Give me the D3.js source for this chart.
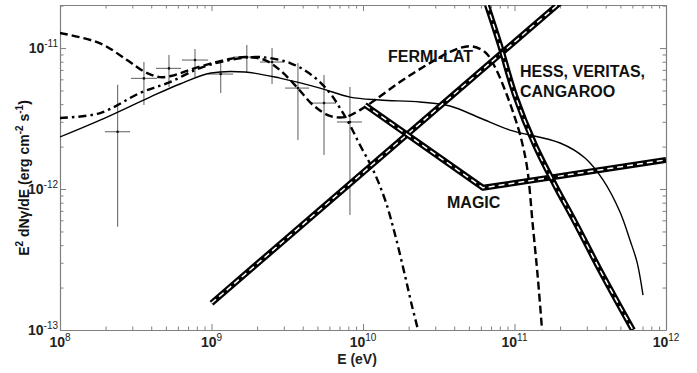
<!DOCTYPE html>
<html>
<head>
<meta charset="utf-8">
<script src="https://cdn.jsdelivr.net/npm/d3@7"></script>
<style>
  body { margin: 0; background: #fff; }
  svg { font-family: "Liberation Sans", Arial, sans-serif; }
</style>
</head>
<body>
<div id="chart"></div>
<script>
const width = 697,
height = 373;

// Fermi-LAT points
const fermiE   = [2.40e8, 3.58e8, 5.24e8, 7.78e8, 1.15e9, 1.71e9, 2.51e9, 3.72e9, 5.53e9, 8.20e9]
const fermiElo = [1.98e8, 2.94e8, 4.30e8, 6.38e8, 9.48e8, 1.39e9, 2.09e9, 3.06e9, 4.54e9, 6.73e9]
const fermiEhi = [2.90e8, 4.37e8, 6.29e8, 9.48e8, 1.39e9, 2.09e9, 3.01e9, 4.41e9, 6.64e9, 9.84e9]
const fermiF   = [2.55e-12, 6.09e-12, 7.17e-12, 8.22e-12, 6.54e-12, 8.63e-12, 7.96e-12, 5.20e-12, 4.07e-12, 2.99e-12]
const fermiFlo = [5.4e-13, 3.95e-12, 5.29e-12, 6.23e-12, 4.80e-12, 6.76e-12, 5.56e-12, 2.23e-12, 1.74e-12, 6.54e-13]
const fermiFhi = [5.5e-12, 7.96e-12, 8.92e-12, 9.84e-12, 7.96e-12, 1.05e-11, 1.0e-11, 7.83e-12, 6.44e-12, 5.29e-12]

// model curves
const solidE = [1e8, 1.84e8, 3.93e8, 6.19e8, 9.93e8, 1.66e9, 2.83e9, 5.20e9, 8.20e9, 1.29e10, 2.38e10, 3.75e10, 5.92e10, 9.33e10, 2.0e11, 2.92e11, 3.84e11, 4.97e11, 5.78e11, 6.44e11, 7.05e11]
const solidF = [2.34e-12, 3.08e-12, 4.49e-12, 5.56e-12, 6.65e-12, 6.76e-12, 6.12e-12, 5.20e-12, 4.49e-12, 4.28e-12, 4.14e-12, 3.88e-12, 3.19e-12, 2.62e-12, 2.12e-12, 1.66e-12, 1.16e-12, 6.87e-13, 4.35e-13, 3.03e-13, 1.77e-13]

const dashE = [1e8, 1.84e8, 2.77e8, 3.64e8, 4.57e8, 5.74e8, 7.78e8, 1.32e9, 1.71e9, 2.25e9, 2.83e9, 3.66e9, 4.68e9, 6.05e9, 7.60e9, 9.55e9, 1.20e10, 1.75e10, 2.56e10, 3.75e10, 5.08e10, 6.38e10, 7.43e10, 8.65e10, 9.77e10, 1.09e11, 1.21e11, 1.32e11, 1.43e11, 1.52e11]
const dashF = [1.28e-11, 1.08e-11, 8.22e-12, 6.76e-12, 6.22e-12, 6.44e-12, 7.21e-12, 8.36e-12, 8.63e-12, 8.22e-12, 6.98e-12, 5.28e-12, 3.94e-12, 3.30e-12, 3.24e-12, 3.63e-12, 4.28e-12, 5.74e-12, 7.45e-12, 9.38e-12, 1.03e-11, 9.38e-12, 7.33e-12, 5.04e-12, 3.52e-12, 2.42e-12, 1.43e-12, 5.56e-13, 2.26e-13, 1e-13]

const dashDotE = [1e8, 1.84e8, 3.37e8, 5.32e8, 8.39e8, 1.32e9, 2.09e9, 3.30e9, 4.68e9, 6.05e9, 7.05e9, 8.20e9, 9.55e9, 1.15e10, 1.40e10, 1.63e10, 1.89e10, 2.10e10, 2.31e10]
const dashDotF = [3.19e-12, 3.46e-12, 4.80e-12, 5.74e-12, 7.21e-12, 8.22e-12, 8.63e-12, 7.83e-12, 6.32e-12, 4.80e-12, 3.75e-12, 2.84e-12, 2.05e-12, 1.41e-12, 8.36e-13, 4.72e-13, 2.45e-13, 1.50e-13, 1e-13]

// sensitivities
const risingE = [1e9, 2e11]
const risingF = [1.55e-13, 2.1e-11]
const magicE = [1.03e10, 6.19e10, 1e12]
const magicF = [3.95e-12, 1.02e-12, 1.61e-12]
const hessE = [6.58e10, 8.02e10, 1.007e11, 1.365e11, 1.85e11, 2.51e11, 3.66e11, 6.05e11]
const hessF = [2.02e-11, 1.05e-11, 4.65e-12, 2.05e-12, 1.067e-12, 5.83e-13, 2.67e-13, 1e-13]

const xMajor = [1e8, 1e9, 1e10, 1e11, 1e12]
const xExp = ["8", "9", "10", "11", "12"]
const yMajor = [1e-13, 1e-12, 1e-11]
const yExp = ["-13", "-12", "-11"]

const plotLeft = 60, plotRight = 666, plotTop = 5, plotBottom = 330;

const x = d3.scaleLog().domain([1e8, 1e12]).range([plotLeft, plotRight]);
const y = d3.scaleLog().domain([1e-13, 2.02e-11]).range([plotBottom, plotTop]);

const svg = d3.select("#chart")
            .append("svg")
            .attr("width", width)
            .attr("height", height);

svg.append("clipPath").attr("id", "clip")
   .append("rect")
   .attr("x", plotLeft).attr("y", plotTop)
   .attr("width", plotRight - plotLeft).attr("height", plotBottom - plotTop);

// minor ticks
const xTicks = [];
for (let e = 8; e < 12; e++) for (let k = 1; k < 10; k++) xTicks.push(k * Math.pow(10, e));
xTicks.push(1e12);
const yTicks = [];
for (let e = -13; e < -10; e++) for (let k = 1; k < 10; k++) {
  const v = k * Math.pow(10, e);
  if (v <= 2.02e-11) yTicks.push(v);
}
const isMajor = v => Math.abs(Math.log10(v) - Math.round(Math.log10(v))) < 1e-6;

function styleAxis(g, sign, dir) {
  g.select(".domain").attr("stroke", "#808080").attr("stroke-width", 1.2);
  g.selectAll(".tick line")
    .attr("stroke", "#808080")
    .attr(dir, d => sign * (isMajor(d) ? 6 : 3.5));
  g.selectAll(".tick text").remove();
}

svg.append("g").attr("transform", `translate(0,${plotBottom})`)
   .call(d3.axisBottom(x).tickValues(xTicks).tickSizeOuter(0))
   .call(g => styleAxis(g, -1, "y2"));
svg.append("g").attr("transform", `translate(0,${plotTop})`)
   .call(d3.axisTop(x).tickValues(xTicks).tickSizeOuter(0))
   .call(g => styleAxis(g, 1, "y2"));
svg.append("g").attr("transform", `translate(${plotLeft},0)`)
   .call(d3.axisLeft(y).tickValues(yTicks).tickSizeOuter(0))
   .call(g => styleAxis(g, 1, "x2"));
svg.append("g").attr("transform", `translate(${plotRight},0)`)
   .call(d3.axisRight(y).tickValues(yTicks).tickSizeOuter(0))
   .call(g => styleAxis(g, -1, "x2"));

// tick labels
xMajor.forEach((v, i) => {
  const t = svg.append("text")
    .attr("x", x(v)).attr("y", 347)
    .attr("text-anchor", "middle")
    .attr("font-size", 14).attr("font-weight", "bold")
    .attr("fill", "#222");
  t.append("tspan").text("10");
  t.append("tspan").attr("dy", -6).attr("font-size", 10).attr("font-weight", "normal").text(xExp[i]);
});
yMajor.forEach((v, i) => {
  const t = svg.append("text")
    .attr("x", 58).attr("y", y(v) + 5)
    .attr("text-anchor", "end")
    .attr("font-size", 14).attr("font-weight", "bold")
    .attr("fill", "#222");
  t.append("tspan").text("10");
  t.append("tspan").attr("dy", -6).attr("font-size", 10).attr("font-weight", "normal").text(yExp[i]);
});

// axis titles
svg.append("text")
  .attr("x", 357).attr("y", 364)
  .attr("text-anchor", "middle")
  .attr("font-size", 14).attr("font-weight", "bold")
  .attr("fill", "#222")
  .text("E (eV)");

const yl = svg.append("text")
  .attr("transform", "translate(29,178) rotate(-90)")
  .attr("text-anchor", "middle")
  .attr("font-size", 14).attr("font-weight", "bold")
  .attr("fill", "#111");
yl.append("tspan").text("E");
yl.append("tspan").attr("dy", -6).attr("font-size", 10).text("2");
yl.append("tspan").attr("dy", 6).text(" dN");
yl.append("tspan").text("γ");
yl.append("tspan").text("/dE (erg cm");
yl.append("tspan").attr("dy", -6).attr("font-size", 10).text("-2");
yl.append("tspan").attr("dy", 6).text(" s");
yl.append("tspan").attr("dy", -6).attr("font-size", 10).text("-1");
yl.append("tspan").attr("dy", 6).text(")");

const plot = svg.append("g").attr("clip-path", "url(#clip)");

// error bars
const pts = d3.range(fermiE.length);
plot.selectAll("allV").data(pts).join("line")
  .attr("x1", i => x(fermiE[i])).attr("x2", i => x(fermiE[i]))
  .attr("y1", i => y(fermiFlo[i])).attr("y2", i => y(fermiFhi[i]))
  .attr("stroke", "#777").attr("stroke-width", 1.2);
plot.selectAll("allH").data(pts).join("line")
  .attr("x1", i => x(fermiElo[i])).attr("x2", i => x(fermiEhi[i]))
  .attr("y1", i => y(fermiF[i])).attr("y2", i => y(fermiF[i]))
  .attr("stroke", "#777").attr("stroke-width", 1.2);
plot.selectAll("allDots").data(pts).join("circle")
  .attr("cx", i => x(fermiE[i])).attr("cy", i => y(fermiF[i]))
  .attr("r", 1.3).attr("fill", "#111");

const line = d3.line().x(d => x(d[0])).y(d => y(d[1])).curve(d3.curveCatmullRom);
const straight = d3.line().x(d => x(d[0])).y(d => y(d[1]));

plot.append("path").datum(d3.zip(solidE, solidF))
  .attr("d", line).attr("fill", "none")
  .attr("stroke", "#000").attr("stroke-width", 1.4);
plot.append("path").datum(d3.zip(dashE, dashF))
  .attr("d", line).attr("fill", "none")
  .attr("stroke", "#000").attr("stroke-width", 2.4)
  .attr("stroke-dasharray", "8,4");
plot.append("path").datum(d3.zip(dashDotE, dashDotF))
  .attr("d", line).attr("fill", "none")
  .attr("stroke", "#000").attr("stroke-width", 2.4)
  .attr("stroke-dasharray", "8,4,2.5,4");

// thick sensitivity curves with white dashed core
[[risingE, risingF, straight], [magicE, magicF, straight], [hessE, hessF, line]].forEach(([e, f, gen]) => {
  const data = d3.zip(e, f);
  plot.append("path").datum(data)
    .attr("d", gen).attr("fill", "none")
    .attr("stroke", "#000").attr("stroke-width", 6)
    .attr("stroke-linejoin", "round");
  plot.append("path").datum(data)
    .attr("d", gen).attr("fill", "none")
    .attr("stroke", "#fff").attr("stroke-width", 1.5)
    .attr("stroke-dasharray", "6,4");
});

// labels
const labels = [
  ["FERMI-LAT", 388, 62],
  ["HESS, VERITAS,", 520, 77],
  ["CANGAROO", 520, 97],
  ["MAGIC", 447, 208]
];
svg.selectAll("allLabels").data(labels).join("text")
  .attr("x", d => d[1]).attr("y", d => d[2])
  .attr("font-size", 16).attr("font-weight", "bold")
  .attr("fill", "#111")
  .text(d => d[0]);
</script>
</body>
</html>
